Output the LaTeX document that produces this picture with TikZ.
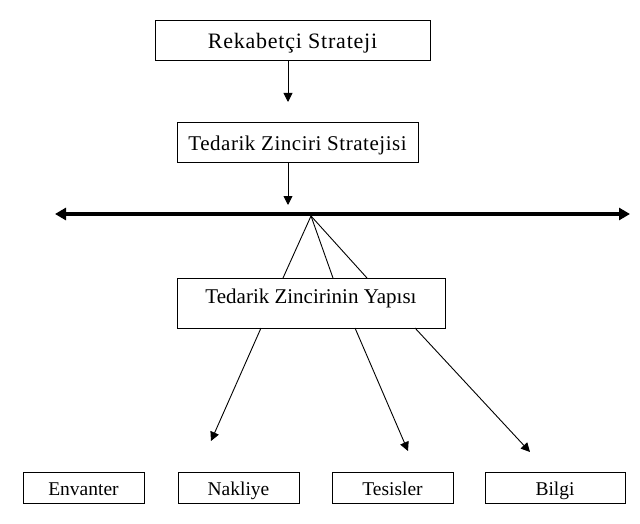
\documentclass[tikz,border=0pt]{standalone}
\usepackage{fontspec}
\setmainfont{Liberation Serif}
\usetikzlibrary{arrows.meta}
\begin{document}
\begin{tikzpicture}[x=1pt,y=-1pt,
  box/.style={draw=black,line width=1pt,rectangle,inner sep=0pt,anchor=center},
  thin/.style={line width=0.9pt},
  arr/.style={line width=0.9pt,-{Triangle[length=9pt,width=9pt]}},
  bigarr/.style={line width=4.5pt,{Triangle[length=11pt,width=12pt]}-{Triangle[length=11pt,width=12pt]}}]
\useasboundingbox (0,0) rectangle (640,524);
\node[box,minimum width=275pt,minimum height=40pt,text height=15pt,text depth=0pt,font=\fontsize{22}{24}\selectfont\addfontfeatures{LetterSpace=3.5}] (r) at (292.5,41) {Rekabetçi Strateji};
\node[box,minimum width=241pt,minimum height=40pt,text height=15pt,text depth=0pt,font=\fontsize{21}{24}\selectfont\addfontfeatures{LetterSpace=2.5}] (t) at (297.5,143) {Tedarik Zinciri Stratejisi};
\node[box,minimum width=268pt,minimum height=50pt,text height=12pt,text depth=12pt,font=\fontsize{21}{24}\selectfont] (y) at (311,303) {Tedarik Zincirinin Yapısı};
\node[box,minimum width=121pt,minimum height=31pt,text height=15pt,text depth=0pt,font=\fontsize{19.5}{22}\selectfont] (e) at (83.5,487.5) {Envanter};
\node[box,minimum width=121pt,minimum height=31pt,text height=15pt,text depth=0pt,font=\fontsize{19.5}{22}\selectfont] (n) at (238.5,487.5) {Nakliye};
\node[box,minimum width=121pt,minimum height=31pt,text height=15pt,text depth=0pt,font=\fontsize{19.5}{22}\selectfont] (ts) at (392.5,487.5) {Tesisler};
\node[box,minimum width=140pt,minimum height=31pt,text height=15pt,text depth=0pt,font=\fontsize{19.5}{22}\selectfont] (b) at (555,487.5) {Bilgi};
% coordinates
\coordinate (a1) at (288,102);
\coordinate (a2) at (288,205);
\coordinate (L) at (55,214);
\coordinate (R) at (630,214);
\coordinate (apex) at (311,216);
\coordinate (k1) at (283,278);
\coordinate (k2) at (333,278);
\coordinate (k3) at (367,278);
\coordinate (s1) at (261,328);
\coordinate (s2) at (355,328);
\coordinate (s3) at (415,328);
\coordinate (e1) at (211,441);
\coordinate (e2) at (408,451);
\coordinate (e3) at (530,452);
\draw[arr] (r.south -| a1) -- (a1);
\draw[arr] (t.south -| a2) -- (a2);
\draw[bigarr] (L) -- (R);
\draw[thin] (apex) -- (k1);
\draw[thin] (apex) -- (k2);
\draw[thin] (apex) -- (k3);
\draw[arr] (s1) -- (e1);
\draw[arr] (s2) -- (e2);
\draw[arr] (s3) -- (e3);
\end{tikzpicture}
\end{document}
